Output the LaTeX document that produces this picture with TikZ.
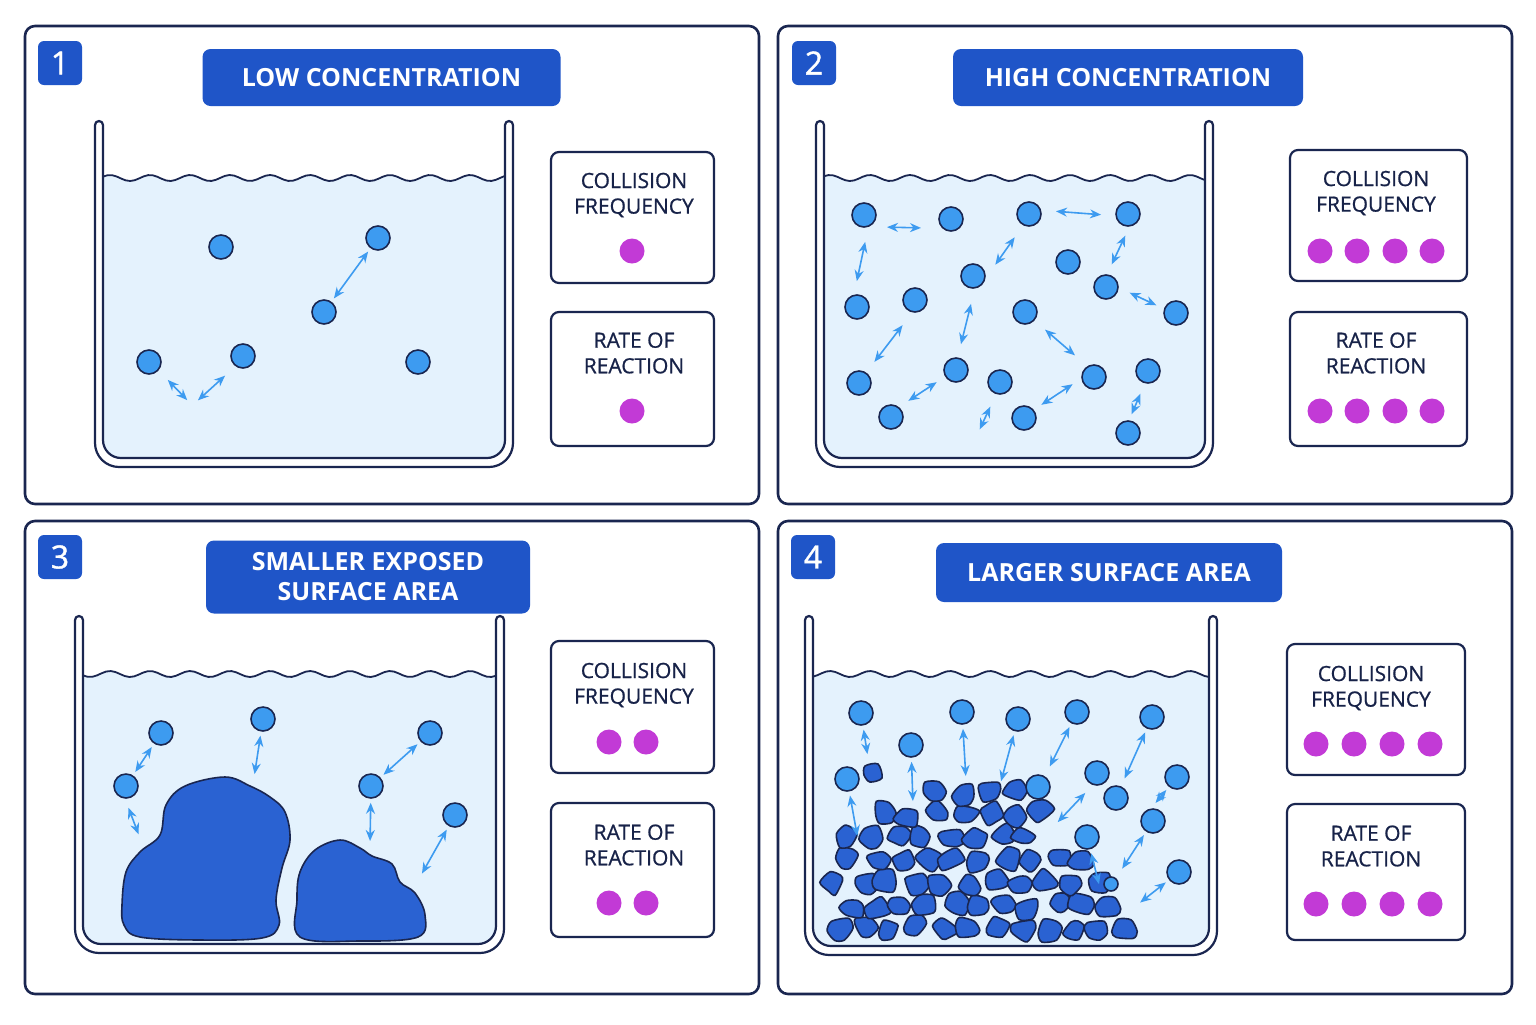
\documentclass[tikz,border=0pt]{standalone}
\usepackage{fontspec}
\setmainfont{Open Sans}
\usetikzlibrary{arrows.meta}
\definecolor{navy}{HTML}{1A2650}
\definecolor{bblue}{HTML}{1F55C8}
\definecolor{water}{HTML}{E4F2FD}
\definecolor{pblue}{HTML}{3D9BF0}
\definecolor{cblue}{HTML}{2A62D2}
\definecolor{mag}{HTML}{C23AD6}
\tikzset{
 panel/.style={draw=navy, line width=1.3pt, rounded corners=5pt, fill=white},
 badge/.style={fill=bblue, rounded corners=3pt, text=white, font=\addfontfeature{FakeBold=1.2}\fontsize{16}{16}\selectfont, minimum size=22pt, inner sep=0},
 banner/.style={fill=bblue, rounded corners=4pt, text=white, font=\bfseries\fontsize{12.5}{15}\selectfont, align=center, inner sep=0},
 info/.style={draw=navy, line width=1.1pt, rounded corners=4pt, fill=white, minimum width=81pt, minimum height=66pt, inner sep=0},
 btext/.style={text=navy!90!black, font=\addfontfeature{FakeBold=0.8}\fontsize{10.5}{12.8}\selectfont, align=center},
 pt/.style={circle, fill=pblue, draw=navy, line width=0.8pt, minimum size=12pt, inner sep=0},
 dot/.style={circle, fill=mag, minimum size=12.5pt, inner sep=0},
 arr/.style={{Stealth[length=5.5pt,width=4.5pt]}-{Stealth[length=5.5pt,width=4.5pt]}, draw=pblue, line width=0.8pt, shorten >=2pt, shorten <=2pt},
 chunk/.style={fill=cblue, draw=navy, line width=0.8pt},
 wall/.style={draw=navy, line width=1.1pt},
}
\newcommand\bkr[5]{%
 \fill[water] plot[domain=#1+8:#2-8,samples=90] (\x,{#5+3*sin(9*\x)}) [rounded corners=9pt] -- (#2-8,#4-9) -- (#1+8,#4-9) [sharp corners] -- cycle;
 \draw[navy, line width=0.9pt] plot[domain=#1+8:#2-8,samples=90] (\x,{#5+3*sin(9*\x)});
 \draw[wall, rounded corners=12pt] (#1,#3) -- (#1,#4) -- (#2,#4) -- (#2,#3);
 \draw[wall, rounded corners=9pt] (#1+8,#3+3) -- (#1+8,#4-9) -- (#2-8,#4-9) -- (#2-8,#3+3);
 \draw[wall, line cap=round] (#1,#3) arc[start angle=180,end angle=0,radius=2pt] -- (#1+8,#3+3);
 \draw[wall, line cap=round] (#2-8,#3+3) -- (#2-8,#3) arc[start angle=180,end angle=0,radius=2pt] -- (#2,#3);
}
\begin{document}
\begin{tikzpicture}[x=0.5pt,y=-0.5pt]
\useasboundingbox (0,0) rectangle (1536,1024);
\fill[white] (0,0) rectangle (1536,1024);
% panels
\draw[panel] (25,26) rectangle (759,504);
\draw[panel] (778,26) rectangle (1512,504);
\draw[panel] (25,521) rectangle (759,994);
\draw[panel] (778,521) rectangle (1512,994);
\node[badge] (n1) at (60,63) {1};
\node[badge] (n2) at (814,63) {2};
\node[badge] (n3) at (60,557) {3};
\node[badge] (n4) at (813,557) {4};
\node[banner, minimum width=179pt, minimum height=28.5pt] (t1) at (381.5,77.5) {LOW CONCENTRATION};
\node[banner, minimum width=175pt, minimum height=28.5pt] (t2) at (1128,77.5) {HIGH CONCENTRATION};
\node[banner, minimum width=162pt, minimum height=36.5pt] (t3) at (368,577) {SMALLER EXPOSED\\SURFACE AREA};
\node[banner, minimum width=173pt, minimum height=29.5pt] (t4) at (1109,572.5) {LARGER SURFACE AREA};
% info boxes
\node[info, minimum width=81.5pt, minimum height=65.5pt] (c1) at (632.5,217.5) {};
\node[info, minimum width=81.5pt, minimum height=67pt] (r1) at (632.5,379) {};
\node[info, minimum width=88.5pt, minimum height=65.5pt] (c2) at (1378.5,215.5) {};
\node[info, minimum width=88.5pt, minimum height=67pt] (r2) at (1378.5,379) {};
\node[info, minimum width=81.5pt, minimum height=66pt] (c3) at (632.5,707) {};
\node[info, minimum width=81.5pt, minimum height=67pt] (r3) at (632.5,870) {};
\node[info, minimum width=89pt, minimum height=65.5pt] (c4) at (1376,709.5) {};
\node[info, minimum width=89pt, minimum height=68pt] (r4) at (1376,872) {};
\foreach \b/\x/\y in {c1/634/195, c2/1376/193, c3/634/685, c4/1371/688}
  \node[btext] at (\x,\y) {COLLISION\\FREQUENCY};
\foreach \b/\x/\y in {r1/634/353, r2/1376/353, r3/634/845, r4/1371/846}
  \node[btext] at (\x,\y) {RATE OF\\REACTION};
\node[dot] (d1a) at (632,251) {};
\node[dot] (d1b) at (632,411) {};
\foreach \x [count=\i] in {1320,1357,1395,1432}{
  \node[dot] (d2a\i) at (\x,251) {};
  \node[dot] (d2b\i) at (\x,411) {};
}
\foreach \x [count=\i] in {609,646}{
  \node[dot] (d3a\i) at (\x,742) {};
  \node[dot] (d3b\i) at (\x,903) {};
}
\foreach \x [count=\i] in {1316,1354,1392,1430}{
  \node[dot] (d4a\i) at (\x,744) {};
  \node[dot] (d4b\i) at (\x,904) {};
}
% beakers
\bkr{95}{513}{125}{467}{178}
\bkr{816}{1213}{125}{467}{178}
\bkr{75}{504}{620}{953}{674}
\bkr{805}{1217}{620}{955}{674}
% panel 1
\node[pt] (a1) at (221,247) {};
\node[pt] (a2) at (378,238) {};
\node[pt] (a3) at (324,312) {};
\node[pt] (a4) at (149,362) {};
\node[pt] (a5) at (243,356) {};
\node[pt] (a6) at (418,362) {};
\draw[arr] (a3) -- (a2);
\draw[arr] (165,377) -- (190,403);
\draw[arr] (195,403) -- (228,373);
% panel 2
\foreach \n/\x/\y in {a/864/215,b/951/219,c/1029/214,d/1128/214,e/973/276,f/1068/262,g/1106/287,h/857/307,i/915/300,j/1025/312,k/1176/313,l/859/383,m/956/370,n/1000/382,o/1094/377,p/1148/371,q/891/417,r/1024/418,s/1128/433}
  \node[pt] (b\n) at (\x,\y) {};
\foreach \xa/\ya/\xb/\yb in {883/227/925/228, 1052/211/1105/215, 866/238/856/285, 993/268/1017/234, 1127/232/1110/268, 1126/291/1160/307, 872/365/905/322, 960/348/972/300, 1042/327/1078/358, 905/403/940/380, 978/433/992/403, 1038/407/1076/382, 1130/418/1142/390}
  \draw[arr] (\xa,\ya) -- (\xb,\yb);
% panel 3
\filldraw[chunk] plot[smooth cycle, tension=0.6] coordinates {(122,905) (126,872) (140,852) (160,835) (166,805) (185,786) (225,777) (250,786) (270,797) (285,812) (290,840) (282,868) (276,900) (279,925) (262,938) (200,940) (140,937) (124,925)};
\filldraw[chunk] plot[smooth cycle, tension=0.6] coordinates {(300,937) (297,900) (300,872) (315,850) (340,840) (360,848) (372,856) (392,864) (400,882) (415,893) (425,915) (418,937) (360,941)};
\foreach \n/\x/\y in {a/161/733,b/263/719,c/430/733,d/126/786,e/371/786,f/455/815}
  \node[pt] (c\n) at (\x,\y) {};
\draw[arr] (cd) -- (ca);
\draw[arr] (127,804) -- (140,838);
\draw[arr] (cb) -- (254,778);
\draw[arr] (ce) -- (cc);
\draw[arr] (ce) -- (370,845);
\draw[arr] (420,877) -- (cf);
% panel 4 mound
\pgfmathsetseed{11}
\foreach \cy/\xa/\nn in {929/838/12, 906/850/11, 883/836/11, 860/850/10, 837/845/8, 814/885/7, 792/935/4}{
  \foreach \i in {1,...,\nn}{
    \pgfmathsetmacro\cx{\xa+(\i-1)*26+4*rand}
    \pgfmathsetmacro\cyy{\cy+3*rand}
    \filldraw[chunk] plot[domain=0:300, samples=6, smooth cycle, tension=0.45] ({\cx+(12+2.5*rand)*cos(\x+18*rand)},{\cyy+(10.5+2.5*rand)*sin(\x+18*rand)});
  }
}
\filldraw[chunk] plot[smooth cycle, tension=0.5] coordinates {(865,766) (878,764) (882,778) (870,782) (864,775)};
\foreach \n/\x/\y in {a/861/713,b/962/712,c/1018/719,d/1077/712,e/1152/717,f/911/745,g/847/779,h/1038/787,i/1097/773,j/1116/798,k/1177/777,l/1153/821,m/1087/837,o/1179/872}
  \node[pt] (d\n) at (\x,\y) {};
\node[pt, minimum size=7pt] (dn) at (1111,884) {};
\draw[arr] (da) -- (868,758);
\draw[arr] (df) -- (913,805);
\draw[arr] (db) -- (966,780);
\draw[arr] (dc) -- (1000,785);
\draw[arr] (dd) -- (1048,770);
\draw[arr] (de) -- (1123,782);
\draw[arr] (1088,790) -- (1055,825);
\draw[arr] (dk) -- (1153,806);
\draw[arr] (dg) -- (858,840);
\draw[arr] (dl) -- (1120,872);
\draw[arr] (dm) -- (1100,888);
\draw[arr] (do) -- (1137,905);
\end{tikzpicture}
\end{document}
